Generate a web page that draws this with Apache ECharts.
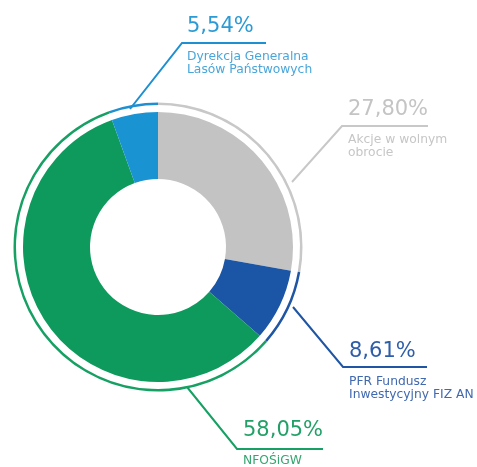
<!DOCTYPE html>
<html>
<head>
<meta charset="utf-8">
<script src="https://cdn.jsdelivr.net/npm/echarts@6/dist/echarts.min.js"></script>
<style>html,body{margin:0;padding:0;background:#fff}#c{width:477px;height:467px}</style>
</head>
<body>
<div id="c"></div>
<script>
// Data
var names = ['Akcje w wolnym\nobrocie', 'PFR Fundusz\nInwestycyjny FIZ AN', 'NFOŚiGW', 'Dyrekcja Generalna\nLasów Państwowych'];
var values = [27.80, 8.61, 58.05, 5.54];
var valueLabels = ['27,80%', '8,61%', '58,05%', '5,54%'];

// Styles
var sliceColors = ['#c3c3c3', '#1b55a5', '#0f9a5d', '#1a93d3'];
var ringColors = ['#c8c8c8', '#1f55a3', '#17a063', '#1e8fd0'];
var pctColors = ['#c4c4c4', '#2f5ea9', '#23a067', '#2b9ad5'];
var nameColors = ['#c6c6c6', '#4169af', '#36a671', '#4aa6da'];

// Label layout (leader start, elbow, end; text anchor)
var anchors = [
  {start: [292, 182], elbow: [342, 126], end: [428, 126], tx: 348, ty: 97},
  {start: [293, 307], elbow: [343, 367], end: [427, 367], tx: 349, ty: 339},
  {start: [187, 387], elbow: [237, 449], end: [323, 449], tx: 243, ty: 418},
  {start: [130, 109], elbow: [182, 43], end: [266, 43], tx: 187, ty: 14}
];

var font = 'DejaVu Sans';

var mainData = values.map(function (v, i) {
  return {
    value: v,
    name: names[i],
    itemStyle: {color: sliceColors[i]},
    label: {
      formatter: '{p|' + valueLabels[i] + '}\n{s| }\n' + names[i].split('\n').map(function (t) { return '{n|' + t + '}'; }).join('\n'),
      rich: {
        p: {fontSize: 21, lineHeight: 26, color: pctColors[i], fontFamily: font, fontWeight: 'normal'},
        s: {fontSize: 8, lineHeight: 10},
        n: {fontSize: 12.3, lineHeight: 13, color: nameColors[i], fontFamily: font}
      }
    },
    labelLine: {lineStyle: {color: ringColors[i], width: 2}}
  };
});

var ringData = values.map(function (v, i) {
  return {value: v, name: names[i], itemStyle: {color: ringColors[i]}};
});

var chart = echarts.init(document.getElementById('c'), null, {renderer: 'canvas'});
chart.setOption({
  animation: false,
  series: [
    {
      type: 'pie',
      center: [158, 247],
      radius: [68, 135],
      startAngle: 90,
      clockwise: true,
      avoidLabelOverlap: false,
      label: {show: true, position: 'outside'},
      labelLine: {show: true, length: 20, length2: 20},
      labelLayout: function (params) {
        var a = anchors[params.dataIndex];
        return {
          x: a.tx, y: a.ty, align: 'left', verticalAlign: 'top',
          labelLinePoints: [a.start, a.elbow, a.end]
        };
      },
      emphasis: {disabled: true},
      data: mainData
    },
    {
      type: 'pie',
      center: [158, 247],
      radius: [142, 144.5],
      startAngle: 90,
      clockwise: true,
      silent: true,
      label: {show: false},
      labelLine: {show: false},
      emphasis: {disabled: true},
      data: ringData
    }
  ]
});
</script>
</body>
</html>
